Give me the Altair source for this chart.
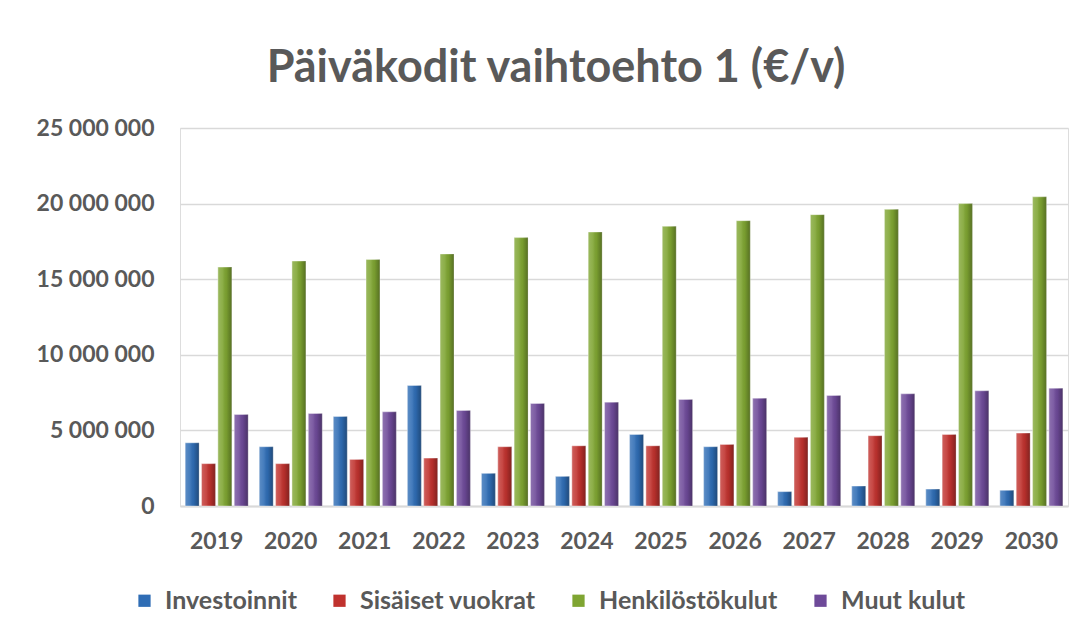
import altair as alt
import pandas as pd

years = ["2019", "2020", "2021", "2022", "2023", "2024", "2025", "2026", "2027", "2028", "2029", "2030"]
series = ["Investoinnit", "Sisäiset vuokrat", "Henkilöstökulut", "Muut kulut"]
colors = ["#2F6DB5", "#C0322E", "#7FA532", "#6E4A99"]

investoinnit = [4180000, 3920000, 5920000, 7970000, 2160000, 1960000, 4730000, 3920000, 950000, 1320000, 1120000, 1040000]
sisaiset_vuokrat = [2800000, 2800000, 3080000, 3170000, 3920000, 3980000, 3980000, 4070000, 4540000, 4650000, 4730000, 4820000]
henkilostokulut = [15800000, 16200000, 16300000, 16670000, 17750000, 18120000, 18500000, 18870000, 19270000, 19620000, 20000000, 20450000]
muut_kulut = [6050000, 6120000, 6230000, 6320000, 6780000, 6870000, 7050000, 7130000, 7310000, 7420000, 7620000, 7790000]

rows = []
for name, vals in zip(series, [investoinnit, sisaiset_vuokrat, henkilostokulut, muut_kulut]):
    for y, v in zip(years, vals):
        rows.append({"Vuosi": y, "Sarja": name, "Arvo": v})
df = pd.DataFrame(rows)

FONT = "Lato"
TXT = "#595959"

x_enc = alt.X("Vuosi:N", sort=years, title=None,
              scale=alt.Scale(paddingInner=0.15, paddingOuter=0.07),
              axis=alt.Axis(labelAngle=0, labelFont=FONT, labelFontSize=23, labelFontWeight="bold",
                            labelColor=TXT, labelPadding=24, ticks=False, domainColor="#D9D9D9",
                            domainWidth=2, grid=False))
xo_enc = alt.XOffset("Sarja:N", sort=series, scale=alt.Scale(paddingInner=0.15, paddingOuter=0))
y_enc = alt.Y("Arvo:Q", title=None,
              scale=alt.Scale(domain=[0, 25000000]),
              axis=alt.Axis(values=[0, 5000000, 10000000, 15000000, 20000000, 25000000],
                            labelExpr="replace(replace(format(datum.value, ','), ',', ' '), ',', ' ')",
                            labelFont=FONT, labelFontSize=23, labelFontWeight="bold", labelColor=TXT,
                            labelPadding=26, ticks=False, domain=False,
                            gridColor="#D9D9D9", gridWidth=1.5))

base = alt.Chart(df)

bars = base.mark_bar(stroke="#ffffff", strokeOpacity=0.5, strokeWidth=0.8).encode(
    x=x_enc,
    xOffset=xo_enc,
    y=y_enc,
    color=alt.Color("Sarja:N", sort=series, title=None,
                    scale=alt.Scale(domain=series, range=colors),
                    legend=alt.Legend(orient="none", direction="horizontal", legendX=-48, legendY=460,
                                      symbolType="square", symbolSize=150, symbolStrokeWidth=0,
                                      labelFont=FONT, labelFontSize=25, labelFontWeight="bold",
                                      labelColor=TXT, labelLimit=400, columnPadding=30, labelOffset=8)),
)

shade = base.mark_bar(fill=alt.Gradient(
    gradient="linear", x1=0, x2=1, y1=0, y2=0,
    stops=[alt.GradientStop(color="rgba(255,255,255,0.22)", offset=0),
           alt.GradientStop(color="rgba(255,255,255,0.10)", offset=0.35),
           alt.GradientStop(color="rgba(0,0,0,0.05)", offset=0.6),
           alt.GradientStop(color="rgba(0,0,0,0.32)", offset=1)])).encode(
    x=x_enc, xOffset=xo_enc, y=y_enc)

chart = alt.layer(bars, shade).properties(
    width=888, height=378,
    autosize=alt.AutoSizeParams(type="none"),
    padding={"left": 172, "top": 120, "right": 15, "bottom": 121},
    title=alt.Title("Päiväkodit vaihtoehto 1 (€/v)", font=FONT, fontSize=45, fontWeight="bold",
                    color=TXT, anchor="middle", dx=-68, offset=26),
).configure_view(stroke=None).configure(background="white")

chart.save("out.html", embed_options={"renderer": "svg", "actions": False})
